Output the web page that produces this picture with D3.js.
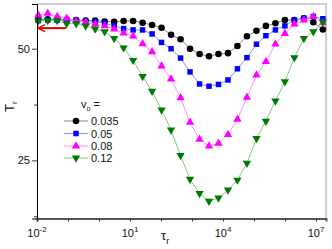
<!DOCTYPE html>
<html lang="en">
<head>
<meta charset="UTF-8">
<title>Tr vs tau_r</title>
<script src="https://d3js.org/d3.v7.min.js"></script>
<style>
  body { margin: 0; background: #fff; }
  svg { font-family: "Liberation Sans", Arial, sans-serif; }
</style>
</head>
<body>
<div id="chart"></div>
<script>
// relaxation times (x values shared by all curves)
const tau = [0.011, 0.0222, 0.0449, 0.0908, 0.184, 0.372, 0.752, 1.52, 3.08, 6.22,
             12.6, 25.5, 51.5, 104, 211, 427, 863, 1750, 3530, 7140,
             14500, 29200, 59200, 120000, 242000, 490000, 991000, 2.0e6, 4.06e6, 8.2e6, 1.66e7];

const v035 = [56.5, 56.6, 56.5, 56.5, 56.4, 56.3, 56.3, 56.1, 56.0, 56.2,
              56.2, 55.8, 55.3, 54.7, 53.1, 52.1, 50.0, 48.8, 48.3, 48.8,
              49.0, 50.6, 52.8, 54.0, 55.1, 55.7, 56.4, 56.4, 56.8, 55.9, 54.3];
const v05  = [56.3, 56.4, 56.4, 56.4, 56.3, 56.0, 56.0, 55.7, 55.1, 54.5,
              54.2, 54.2, 53.3, 51.4, 50.0, 47.9, 44.8, 42.1, 41.6, 42.0,
              43.0, 45.5, 48.0, 51.0, 52.9, 54.2, 55.1, 56.4, 56.8, 57.2, 56.7];
const v08  = [57.5, 57.9, 57.2, 56.8, 56.2, 55.9, 55.5, 55.1, 54.4, 53.5,
              52.8, 51.1, 49.3, 46.1, 43.2, 39.0, 33.5, 29.7, 28.2, 28.8,
              30.8, 34.2, 39.1, 44.1, 47.1, 51.0, 53.4, 55.5, 56.4, 57.2, 55.8];
const v12  = [56.2, 56.3, 56.3, 55.6, 55.6, 55.1, 54.4, 53.8, 52.3, 50.2,
              47.4, 43.8, 40.5, 36.3, 31.8, 26.1, 20.8, 17.6, 15.9, 16.6,
              18.4, 20.6, 24.4, 29.9, 33.8, 38.3, 42.6, 48.0, 52.3, 53.8, 56.0];

const seriesNames = ["0.035", "0.05", "0.08", "0.12"];
const xTickExp = [-2, -1, 0, 1, 2, 3, 4, 5, 6, 7];
const xLabelExp = [-2, 1, 4, 7];
const yTicks = [12.5, 25, 37.5, 50];
const yLabels = [25, 50];
const arrowValue = 54.6;   // red arrow level
const arrowFrom = 0.087;   // arrow tail tau

const width = 332, height = 249;
const pLeft = 37, pRight = 326, pTop = 4, pBottom = 218.5;

const svg = d3.select("#chart").append("svg")
    .attr("width", width)
    .attr("height", height);

const x = d3.scaleLog().domain([1e-2, 2.1e7]).range([pLeft, pRight]);
const y = d3.scaleLinear().domain([12, 60]).range([pBottom, pTop]);

const styles = [
    {line: "#8a8a8a", fill: "#000000", shape: d3.symbolCircle, size: 34, rot: 0},
    {line: "#8c8cff", fill: "#0000ff", shape: d3.symbolSquare, size: 30, rot: 0},
    {line: "#ff8cff", fill: "#ff00ff", shape: d3.symbolTriangle, size: 30, rot: 0},
    {line: "#86c886", fill: "#007a00", shape: d3.symbolTriangle, size: 30, rot: 180}
];
const allSeries = [v035, v05, v08, v12];

// frame: top and right light grey
svg.append("path")
    .attr("d", `M${pLeft},${pTop} H${pRight} V${pBottom}`)
    .attr("fill", "none")
    .attr("stroke", "#d0d0d0")
    .attr("stroke-width", 2);

// curves
const line = d3.line().x((d, i) => x(tau[i])).y(d => y(d));
allSeries.forEach((vals, s) => {
    const st = styles[s];
    svg.append("path")
        .datum(vals)
        .attr("d", line)
        .attr("fill", "none")
        .attr("stroke", st.line)
        .attr("stroke-width", 1);
    svg.append("g").selectAll("path")
        .data(vals)
        .join("path")
        .attr("d", d3.symbol().type(st.shape).size(st.size))
        .attr("transform", (d, i) => `translate(${x(tau[i])},${y(d)}) rotate(${st.rot})`)
        .attr("fill", st.fill);
});

// red arrow
const ay = y(arrowValue);
svg.append("line")
    .attr("x1", x(arrowFrom)).attr("y1", ay)
    .attr("x2", pLeft + 1).attr("y2", ay)
    .attr("stroke", "#e00000").attr("stroke-width", 2);
svg.append("path")
    .attr("d", `M${pLeft + 8},${ay - 3.5} L${pLeft + 1},${ay} L${pLeft + 8},${ay + 3.5}`)
    .attr("fill", "none")
    .attr("stroke", "#e00000").attr("stroke-width", 1.5);

// x axis
const xAxis = svg.append("g")
    .attr("transform", `translate(0,${pBottom})`)
    .call(d3.axisBottom(x).tickValues(xTickExp.map(e => Math.pow(10, e))).tickSize(3).tickFormat(""));
xAxis.select(".domain").attr("stroke", "#555").attr("stroke-width", 2);
xAxis.selectAll(".tick line").attr("stroke", "#333");

xLabelExp.forEach(e => {
    const t = svg.append("text")
        .attr("x", x(Math.pow(10, e)))
        .attr("y", 237)
        .attr("text-anchor", "middle")
        .attr("font-size", 11)
        .attr("fill", "#111");
    t.append("tspan").text("10");
    t.append("tspan").attr("dy", -5).attr("font-size", 8).text(e);
});

// y axis
const yAxis = svg.append("g")
    .attr("transform", `translate(${pLeft},0)`)
    .call(d3.axisLeft(y).tickValues(yTicks).tickSize(5)
        .tickFormat(d => yLabels.includes(d) ? d : ""));
yAxis.select(".domain").attr("stroke", "#000");
yAxis.selectAll(".tick line").attr("stroke", "#333").attr("x2", d => yLabels.includes(d) ? -5 : -3);
yAxis.selectAll(".tick text").attr("font-size", 11).attr("fill", "#111")
    .attr("font-family", "Liberation Sans, Arial, sans-serif").attr("x", -7);

// axis titles
const yt = svg.append("text")
    .attr("transform", "translate(14,112) rotate(-90)")
    .attr("font-size", 13)
    .attr("fill", "#111");
yt.append("tspan").text("T");
yt.append("tspan").attr("dy", 3).attr("font-size", 8).text("r");

const xt = svg.append("text")
    .attr("x", 161)
    .attr("y", 240)
    .attr("font-size", 13)
    .attr("fill", "#111");
xt.append("tspan").text("τ");
xt.append("tspan").attr("dy", 4).attr("font-size", 9).text("r");

// legend
const lg = svg.append("g");
const lt = lg.append("text").attr("x", 81).attr("y", 108).attr("font-size", 11).attr("fill", "#111");
lt.append("tspan").text("v");
lt.append("tspan").attr("dy", 3).attr("font-size", 7).text("o");
lt.append("tspan").attr("dy", -3).text(" =");

const legendY = [121, 133.5, 146, 158];
seriesNames.forEach((name, s) => {
    const st = styles[s];
    const yy = legendY[s];
    lg.append("line")
        .attr("x1", 64).attr("x2", 88)
        .attr("y1", yy).attr("y2", yy)
        .attr("stroke", st.line).attr("stroke-width", 1);
    lg.append("path")
        .attr("d", d3.symbol().type(st.shape).size(st.size))
        .attr("transform", `translate(76,${yy}) rotate(${st.rot})`)
        .attr("fill", st.fill);
    lg.append("text")
        .attr("x", 91).attr("y", yy + 4)
        .attr("font-size", 11).attr("fill", "#111")
        .text(name);
});
</script>
</body>
</html>
